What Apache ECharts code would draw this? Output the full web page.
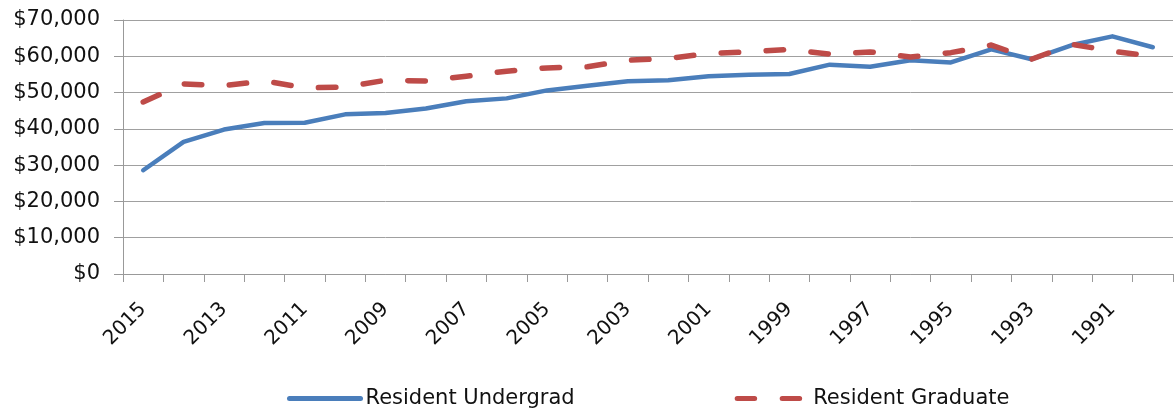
<!DOCTYPE html>
<html>
<head>
<meta charset="utf-8">
<script src="https://cdn.jsdelivr.net/npm/echarts@6/dist/echarts.min.js"></script>
<style>
html,body{margin:0;padding:0;background:#fff;}
#chart{width:1175px;height:412px;}
</style>
</head>
<body>
<div id="chart"></div>
<script>
const years = ['2015','2014','2013','2012','2011','2010','2009','2008','2007','2006','2005','2004','2003','2002','2001','2000','1999','1998','1997','1996','1995','1994','1993','1992','1991','1990'];
const residentUndergrad = [28600,36400,39800,41600,41700,44000,44400,45600,47600,48400,50600,51900,53100,53400,54500,54900,55100,57700,57100,58900,58300,61900,59200,63100,65500,62500];
const residentGraduate = [47400,52400,51900,53200,51300,51500,53400,53200,54500,55900,56800,57100,58900,59400,60800,61200,61900,60600,61200,59800,61000,63100,59200,63300,61400,60000];
const yTicks = {min:0, max:70000, interval:10000};

const FONT = 'DejaVu Sans';
const chart = echarts.init(document.getElementById('chart'), null, {renderer:'canvas'});
chart.setOption({
  animation:false,
  backgroundColor:'#ffffff',
  grid:{left:123, right:2, top:20, bottom:138, containLabel:false},
  legend:{
    left:282, top:383,
    itemWidth:71, itemHeight:12, itemGap:160,
    textStyle:{fontFamily:FONT, fontSize:21, color:'#111'},
    lineStyle:{width:5},
    itemStyle:{opacity:0},
    data:['Resident Undergrad','Resident Graduate']
  },
  xAxis:{
    type:'category',
    data:years,
    boundaryGap:true,
    axisLine:{show:true, lineStyle:{color:'#999', width:1}},
    axisTick:{show:true, length:8, interval:0, lineStyle:{color:'#999'}},
    axisLabel:{interval:1, rotate:45, margin:32, fontFamily:FONT, fontSize:20, color:'#111'},
    splitLine:{show:false}
  },
  yAxis:{
    type:'value',
    min:yTicks.min, max:yTicks.max, interval:yTicks.interval,
    axisLine:{show:true, lineStyle:{color:'#999', width:1}},
    axisTick:{show:true, length:9, lineStyle:{color:'#999'}},
    axisLabel:{margin:23, fontFamily:FONT, fontSize:21, color:'#111',
      formatter:v => '$' + v.toLocaleString('en-US')},
    splitLine:{show:true, lineStyle:{color:'#a0a0a0', width:1}}
  },
  series:[
    {
      name:'Resident Undergrad', type:'line', data:residentUndergrad,
      symbol:'none', smooth:false,
      lineStyle:{color:'#4A7EBB', width:4.5, cap:'round', join:'round'},
      itemStyle:{color:'#4A7EBB'}
    },
    {
      name:'Resident Graduate', type:'line', data:residentGraduate,
      symbol:'none', smooth:false,
      lineStyle:{color:'#BE4B48', width:5.5, type:[17.5,27.5], cap:'round', join:'round'},
      itemStyle:{color:'#BE4B48'}
    }
  ]
});
</script>
</body>
</html>
